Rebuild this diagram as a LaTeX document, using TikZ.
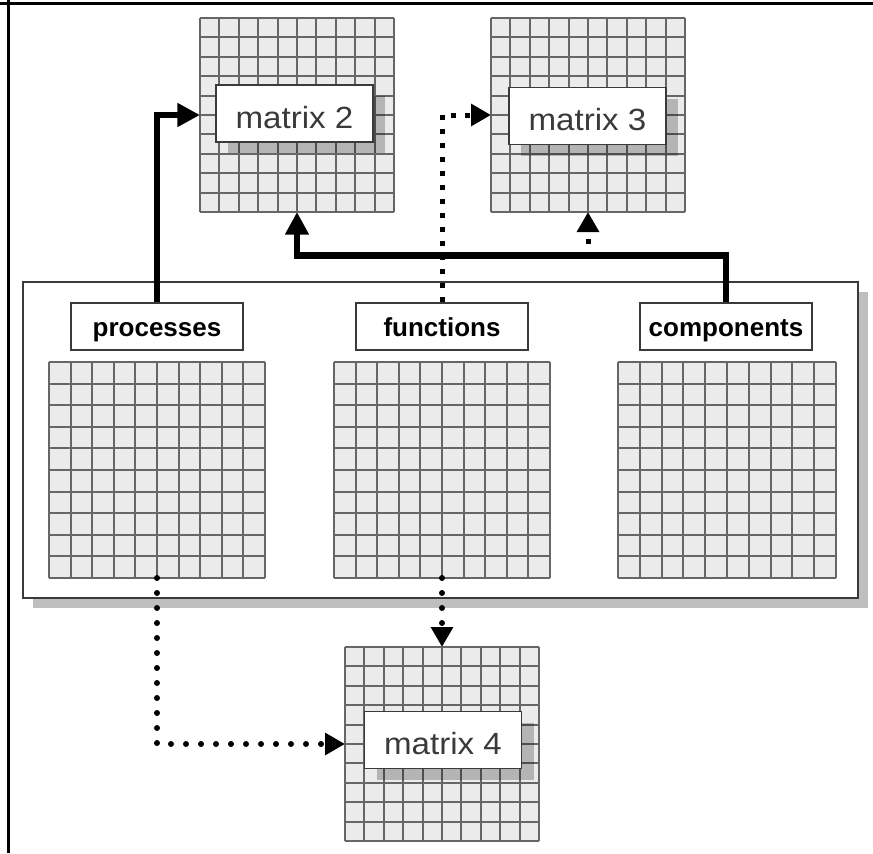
\documentclass[tikz,border=0pt]{standalone}
\usepackage{fontspec}
\setmainfont{Liberation Sans}
\newfontfamily\matfont[FakeStretch=1.08]{Liberation Sans}
\usetikzlibrary{arrows.meta,shadows}
\definecolor{cellfill}{HTML}{EBEBEB}
\definecolor{cellline}{HTML}{666666}
\definecolor{boxline}{HTML}{3A3A3A}
\definecolor{labtext}{HTML}{3A3A3A}
\tikzset{
  gridbox/.style={draw=none, fill=cellfill, inner sep=0pt, outer sep=0pt},
  gridline/.style={draw=cellline, line width=1.5pt},
  catlabel/.style={draw=boxline, fill=white, line width=0.9pt, inner sep=0pt,
     minimum width=129pt, text height=24.75pt, text depth=10.5pt,
     font=\fontsize{19.5}{23}\selectfont\bfseries},
  matlabel/.style={draw=boxline, fill=white, line width=0.9pt, inner sep=0pt,
     minimum width=117.75pt, text height=32.25pt, text depth=10.5pt, text=labtext,
     font=\matfont\fontsize{23}{27}\selectfont,
     drop shadow={shadow xshift=9pt, shadow yshift=-8.25pt, fill=black, opacity=0.23}},
  container/.style={draw=boxline, fill=white, line width=1.1pt, inner sep=0pt,
     minimum width=626.25pt, minimum height=237pt,
     drop shadow={shadow xshift=7.5pt, shadow yshift=-7.5pt, fill=black, opacity=0.25}},
  thickarrow/.style={line width=5pt, -{Triangle[length=17pt,width=17pt]}},
  sqdots/.style={line width=3.75pt, dash pattern=on 3.75pt off 6.75pt,
     -{Triangle[length=15pt,width=16pt]}},
  rddots/.style={line width=4.5pt, line cap=round, dash pattern=on 0pt off 11.25pt,
     -{Triangle[length=15pt,width=16pt]}},
  frameline/.style={line width=2.25pt, draw=black}
}
% grid macro: name, centre x, centre y, width px, height px (lines snapped to whole pixels)
\newcommand{\cellgrid}[5]{%
  \node[gridbox, minimum width=#4*0.75pt, minimum height=#5*0.75pt] (#1) at (#2,#3) {};
  \pgfmathsetmacro{\gxa}{round(#2-#4/2)}
  \pgfmathsetmacro{\gxb}{round(#2+#4/2)}
  \pgfmathsetmacro{\gya}{round(#3-#5/2)}
  \pgfmathsetmacro{\gyb}{round(#3+#5/2)}
  \foreach \k in {0,...,10}{
    \pgfmathsetmacro{\gx}{round(#2-#4/2+\k*#4/10)}
    \pgfmathsetmacro{\gy}{round(#3-#5/2+\k*#5/10)}
    \draw[gridline] (\gx,\gya) -- (\gx,\gyb);
    \draw[gridline] (\gxa,\gy) -- (\gxb,\gy);
  }%
}
\begin{document}
\begin{tikzpicture}[x=0.75pt,y=-0.75pt]
\fill[white] (0,0) rectangle (873,853);
\useasboundingbox (0,0) rectangle (873,853);

% frame lines
\draw[frameline] (0,3.5) -- (873,3.5);
\draw[frameline] (8.5,0) -- (8.5,853);

% container
\node[container] (box) at (440.5,440) {};

% grids
\cellgrid{m2}{297}{115}{194}{194}
\cellgrid{m3}{588}{115}{194}{194}
\cellgrid{m4}{442}{744}{194}{194}
\cellgrid{gP}{157}{470}{216}{216}
\cellgrid{gF}{442}{470}{216}{216}
\cellgrid{gC}{727}{470}{218}{216}

% category labels
\node[catlabel] (pl) at (157,326.5) {processes};
\node[catlabel] (fl) at (442,326.5) {functions};
\node[catlabel] (cl) at (726,326.5) {components};

% matrix labels
\node[matlabel] (l2) at (294.5,113.5) {matrix 2};
\node[matlabel] (l3) at (587.5,116) {matrix 3};
\node[matlabel] (l4) at (443,740) {matrix 4};

% connectors
\draw[sqdots] (cl.north) -- ++(0,-47) -| (m3.south);
\draw[thickarrow] (cl.north) -- ++(0,-47) -| (m2.south);
\draw[thickarrow] (pl.north) |- (m2.west);
\draw[sqdots] (fl.north) |- (m3.west);
\draw[rddots] (gF.south) -- (m4.north);
\draw[rddots] (gP.south) |- (m4.west);
\end{tikzpicture}
\end{document}
